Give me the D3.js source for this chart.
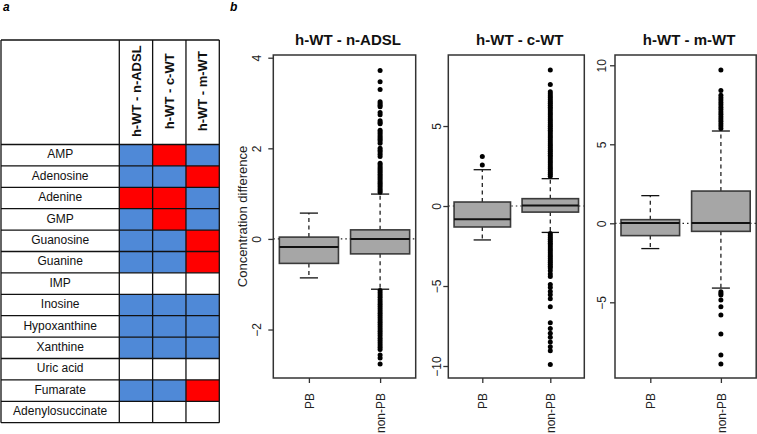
<!DOCTYPE html>
<html>
<head>
<meta charset="utf-8">
<script src="https://cdn.jsdelivr.net/npm/d3@7"></script>
<style>
  html, body { margin: 0; padding: 0; background: #fff; }
  svg { display: block; font-family: "Liberation Sans", Arial, Helvetica, sans-serif; }
</style>
</head>
<body>
<svg id="chart" width="757" height="434"></svg>
<script>
// ---------------- DATA ----------------
const metabolites = ["AMP", "Adenosine", "Adenine", "GMP", "Guanosine", "Guanine", "IMP",
  "Inosine", "Hypoxanthine", "Xanthine", "Uric acid", "Fumarate", "Adenylosuccinate"];
const comparisons = ["h-WT - n-ADSL", "h-WT - c-WT", "h-WT - m-WT"];
// 1 = red cell, -1 = blue cell, 0 = empty cell
const direction = [
  [-1, 1, -1], [-1, -1, 1], [1, 1, -1], [-1, 1, -1], [-1, -1, 1], [-1, -1, 1], [0, 0, 0],
  [-1, -1, -1], [-1, -1, -1], [-1, -1, -1], [0, 0, 0], [-1, -1, 1], [0, 0, 0]
];

const groups = ["PB", "non-PB"];
// [lower whisker, Q1, median, Q3, upper whisker] per comparison
const statsPB = [
  [-0.86, -0.54, -0.18, 0.04, 0.57],
  [-2.12, -1.31, -0.83, 0.25, 2.27],
  [-1.60, -0.78, 0.02, 0.23, 1.75]
];
const statsNonPB = [
  [-1.11, -0.33, 0.00, 0.20, 0.99],
  [-1.65, -0.38, 0.04, 0.46, 1.71],
  [-4.10, -0.51, 0.02, 2.04, 5.84]
];
const outliersPB = [[], [3.10, 2.56], []];
const outliersNonPB = [
  [3.72, 3.47, 3.30, 3.03, 2.99, 2.95, 2.92, 2.79, 2.74, 2.61, 2.57, 2.54, 2.40, 2.36, 2.32,
   2.28, 2.24, 2.20, 2.16, 2.11, 2.00, 1.96, 1.92, 1.87, 1.82, 1.67, 1.63, 1.59, 1.55, 1.51,
   1.47, 1.43, 1.39, 1.35, 1.31, 1.27, 1.23, 1.19, 1.15, 1.11, 1.07, 1.03,
   -1.14, -1.19, -1.24, -1.29, -1.34, -1.39, -1.44, -1.49, -1.54, -1.59, -1.64, -1.69, -1.74,
   -1.79, -1.84, -1.89, -1.94, -1.99, -2.04, -2.09, -2.14, -2.19, -2.24, -2.29, -2.34, -2.39,
   -2.44, -2.56, -2.63, -2.76],
  [8.50, 7.60, 7.14, 7.02, 6.90, 6.78, 6.66, 6.54, 6.42, 6.30, 6.18, 6.06, 5.94, 5.82, 5.70,
   5.58, 5.46, 5.34, 5.22, 5.10, 4.98, 4.86, 4.74, 4.62, 4.50, 4.38, 4.26, 4.14, 4.02, 3.90,
   3.78, 3.66, 3.54, 3.42, 3.30, 3.18, 3.06, 2.94, 2.82, 2.70, 2.58, 2.46, 2.34, 2.22, 2.10,
   1.98, 1.86,
   -1.72, -1.84, -1.96, -2.08, -2.20, -2.32, -2.44, -2.56, -2.68, -2.80, -2.92, -3.04, -3.16,
   -3.28, -3.40, -3.52, -3.64, -3.76, -3.88, -4.05, -4.25, -4.40, -4.90, -5.10, -5.35, -5.55,
   -5.80, -6.30, -7.30, -7.65, -7.95, -8.20, -8.50, -8.80, -9.05, -9.90],
  [9.70, 8.40, 8.10, 7.95, 7.80, 7.65, 7.50, 7.35, 7.20, 7.05, 6.90, 6.75, 6.60, 6.45, 6.30,
   6.15, 6.00, -4.33, -4.45, -4.54, -4.85, -5.28, -5.80, -7.00, -8.33, -8.90]
];
const yTicks = [[-2, 0, 2, 4], [-10, -5, 0, 5], [-5, 0, 5, 10]];
const yAxisTitle = "Concentration difference";

// ---------------- LAYOUT ----------------
const svg = d3.select("#chart");
const FONT = "'Liberation Sans', Arial, Helvetica, sans-serif";
const colorOf = d3.scaleOrdinal().domain([1, -1, 0]).range(["#ff0000", "#4f89d7", "#ffffff"]);

// panel letters
svg.append("text").attr("x", 3).attr("y", 10.5).attr("font-size", 12)
  .attr("font-weight", "bold").attr("font-style", "italic").text("a");
svg.append("text").attr("x", 230).attr("y", 10.5).attr("font-size", 12)
  .attr("font-weight", "bold").attr("font-style", "italic").text("b");

// ---------------- TABLE (panel a) ----------------
const tbl = { left: 1, labelRight: 119.3, right: 219.3, top: 40, headBottom: 144.5, bottom: 422.7 };
const rowScale = d3.scaleBand().domain(metabolites).range([tbl.headBottom, tbl.bottom]);
const colScale = d3.scaleBand().domain(comparisons).range([tbl.labelRight, tbl.right]);
const gT = svg.append("g");

const cells = [];
metabolites.forEach((m, i) => comparisons.forEach((c, j) => cells.push({ m, c, v: direction[i][j] })));
gT.selectAll("rect.cell").data(cells).join("rect").attr("class", "cell")
  .attr("x", d => colScale(d.c)).attr("y", d => rowScale(d.m))
  .attr("width", colScale.bandwidth()).attr("height", rowScale.bandwidth())
  .attr("fill", d => colorOf(d.v));

// grid lines
const lineStyle = sel => sel.attr("stroke", "#111").attr("stroke-width", 1.3);
gT.selectAll("line.h").data([tbl.top, tbl.headBottom, ...metabolites.map(m => rowScale(m) + rowScale.bandwidth())])
  .join("line").attr("class", "h").attr("x1", tbl.left).attr("x2", tbl.right)
  .attr("y1", d => d).attr("y2", d => d).call(lineStyle);
gT.selectAll("line.v").data([tbl.left, ...comparisons.map(c => colScale(c)), tbl.right])
  .join("line").attr("class", "v").attr("y1", tbl.top).attr("y2", tbl.bottom)
  .attr("x1", d => d).attr("x2", d => d).call(lineStyle);

gT.selectAll("text.row").data(metabolites).join("text").attr("class", "row")
  .attr("x", (tbl.left + tbl.labelRight) / 2)
  .attr("y", d => rowScale(d) + rowScale.bandwidth() / 2 + 3.2)
  .attr("text-anchor", "middle").attr("font-size", 12).attr("fill", "#111").text(d => d);

gT.selectAll("text.head").data(comparisons).join("text").attr("class", "head")
  .attr("transform", d => `translate(${colScale(d) + colScale.bandwidth() / 2 + 4.6},${(tbl.top + tbl.headBottom) / 2 - 1}) rotate(-90)`)
  .attr("text-anchor", "middle").attr("font-size", 13).attr("font-weight", "bold")
  .attr("fill", "#111").text(d => d);

// ---------------- BOX PLOTS (panel b) ----------------
const plotTop = 55, plotBottom = 378;
const panels = [
  { left: 273.3, right: 415.7, yDomain: [-3.07, 4.06], labelDx: 12.3 },
  { left: 448.3, right: 584.3, yDomain: [-10.75, 9.44], labelDx: 7.6 },
  { left: 615.0, right: 756.2, yDomain: [-9.79, 10.65], labelDx: 9.5 }
];
const boxW = 0.83, capW = 0.255;

panels.forEach((p, k) => {
  const x = d3.scaleLinear().domain([0.5, 2.5]).range([p.left, p.right]);
  const y = d3.scaleLinear().domain(p.yDomain).range([plotBottom, plotTop]);
  const g = svg.append("g");

  // zero reference line
  g.append("line").attr("x1", p.left).attr("x2", p.right).attr("y1", y(0)).attr("y2", y(0))
    .attr("stroke", "#222").attr("stroke-width", 1.2).attr("stroke-dasharray", "1.5,3");

  const boxes = [
    { pos: 1, s: statsPB[k], out: outliersPB[k] },
    { pos: 2, s: statsNonPB[k], out: outliersNonPB[k] }
  ];
  boxes.forEach(b => {
    const [lo, q1, med, q3, hi] = b.s;
    const cx = x(b.pos);
    const half = x(b.pos + boxW / 2) - cx;
    const capHalf = x(b.pos + capW / 2) - cx;
    // whiskers
    g.append("line").attr("x1", cx).attr("x2", cx).attr("y1", y(q3)).attr("y2", y(hi))
      .attr("stroke", "#222").attr("stroke-width", 1.3).attr("stroke-dasharray", "4,3.5");
    g.append("line").attr("x1", cx).attr("x2", cx).attr("y1", y(q1)).attr("y2", y(lo))
      .attr("stroke", "#222").attr("stroke-width", 1.3).attr("stroke-dasharray", "4,3.5");
    // caps
    [lo, hi].forEach(v => g.append("line").attr("x1", cx - capHalf).attr("x2", cx + capHalf)
      .attr("y1", y(v)).attr("y2", y(v)).attr("stroke", "#111").attr("stroke-width", 1.3));
    // box
    g.append("rect").attr("x", cx - half).attr("width", 2 * half)
      .attr("y", y(q3)).attr("height", y(q1) - y(q3))
      .attr("fill", "#a6a6a6").attr("stroke", "#3a3a3a").attr("stroke-width", 1.6);
    // median
    g.append("line").attr("x1", cx - half).attr("x2", cx + half).attr("y1", y(med)).attr("y2", y(med))
      .attr("stroke", "#111").attr("stroke-width", 2);
    // outliers
    g.selectAll(null).data(b.out).join("circle")
      .attr("cx", cx).attr("cy", d => y(d)).attr("r", 2.5).attr("fill", "#000");
  });

  // frame
  g.append("rect").attr("x", p.left).attr("y", plotTop).attr("width", p.right - p.left)
    .attr("height", plotBottom - plotTop).attr("fill", "none")
    .attr("stroke", "#333").attr("stroke-width", 1.5);

  // y axis
  const ya = g.append("g").attr("transform", `translate(${p.left},0)`)
    .call(d3.axisLeft(y).tickValues(yTicks[k]).tickSize(5).tickFormat(d3.format("d")));
  ya.select(".domain").remove();
  ya.selectAll(".tick line").attr("stroke", "#333").attr("stroke-width", 1.3);
  ya.selectAll(".tick text").attr("x", null).attr("dy", null)
    .attr("transform", `translate(${-p.labelDx},0) rotate(-90)`)
    .attr("text-anchor", "middle").attr("font-size", 12).attr("font-family", FONT).attr("fill", "#222");

  // x axis
  const xa = g.append("g").attr("transform", `translate(0,${plotBottom})`)
    .call(d3.axisBottom(x).tickValues([1, 2]).tickSize(5).tickFormat(d => groups[d - 1]));
  xa.select(".domain").remove();
  xa.selectAll(".tick line").attr("stroke", "#333").attr("stroke-width", 1.3);
  xa.selectAll(".tick text").attr("y", null).attr("dy", null)
    .attr("transform", "translate(4.3,15) rotate(-90)")
    .attr("text-anchor", "end").attr("font-size", 12).attr("font-family", FONT).attr("fill", "#222");

  // title
  g.append("text").attr("x", (p.left + p.right) / 2 + 3.5).attr("y", 44.5)
    .attr("text-anchor", "middle").attr("font-size", 15).attr("font-weight", "bold")
    .attr("fill", "#111").text(comparisons[k]);

  if (k === 0) {
    g.append("text").attr("transform", `translate(246.7,${(plotTop + plotBottom) / 2}) rotate(-90)`)
      .attr("text-anchor", "middle").attr("font-size", 13).attr("fill", "#222").text(yAxisTitle);
  }
});
</script>
</body>
</html>
